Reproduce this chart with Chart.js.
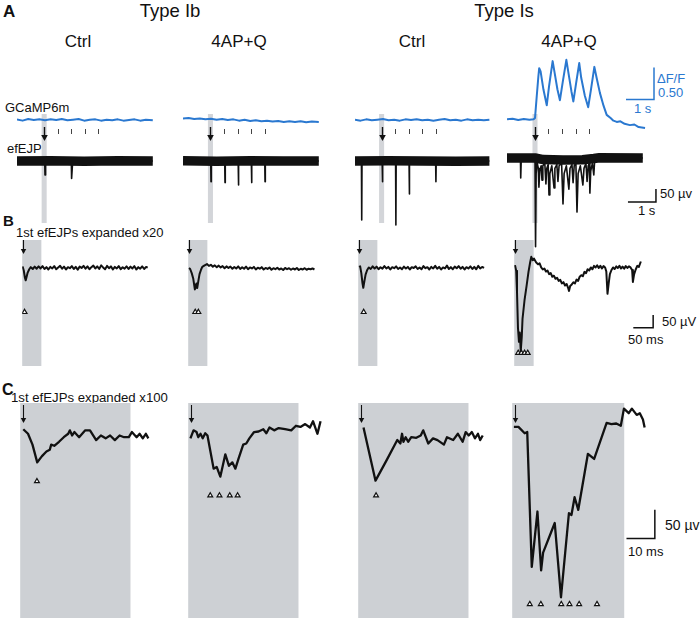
<!DOCTYPE html>
<html>
<head>
<meta charset="utf-8">
<script src="https://cdn.jsdelivr.net/npm/chart.js@4.4.1/dist/chart.umd.min.js"></script>
<style>
  html, body { margin: 0; padding: 0; background: #fff; }
  #fig { position: relative; width: 700px; height: 620px; overflow: hidden; font-family: "Liberation Sans", Arial, sans-serif; color: #111; }
  #fig canvas { position: absolute; }
  .lbl { position: absolute; line-height: 1; white-space: nowrap; }
  .ctr { transform: translateX(-50%); }
  .bold { font-weight: bold; }
  .blue { color: #2a78d0; }
</style>
</head>
<body>
<div id="fig">
  <div class="lbl bold" style="left:3px;top:3px;font-size:17px">A</div>
  <div class="lbl ctr" style="left:170px;top:2px;font-size:18.5px">Type Ib</div>
  <div class="lbl ctr" style="left:504px;top:2px;font-size:18.5px">Type Is</div>
  <div class="lbl ctr" style="left:78px;top:33px;font-size:17px">Ctrl</div>
  <div class="lbl ctr" style="left:239px;top:33px;font-size:17px">4AP+Q</div>
  <div class="lbl ctr" style="left:412px;top:33px;font-size:17px">Ctrl</div>
  <div class="lbl ctr" style="left:569px;top:33px;font-size:17px">4AP+Q</div>
  <div class="lbl" style="left:5px;top:101px;font-size:13px">GCaMP6m</div>
  <div class="lbl" style="left:7px;top:142px;font-size:13px">efEJP</div>
  <div class="lbl blue" style="left:657px;top:71.5px;font-size:13px">ΔF/F</div>
  <div class="lbl blue" style="left:658px;top:85.5px;font-size:13px">0.50</div>
  <div class="lbl blue" style="left:634px;top:102px;font-size:13px">1 s</div>
  <div class="lbl" style="left:660px;top:187px;font-size:13px">50 µv</div>
  <div class="lbl" style="left:638px;top:204px;font-size:13px">1 s</div>
  <div class="lbl bold" style="left:3px;top:212.5px;font-size:15px">B</div>
  <div class="lbl" style="left:16px;top:225.5px;font-size:13px">1st efEJPs expanded x20</div>
  <div class="lbl" style="left:662px;top:314.5px;font-size:13px">50 µV</div>
  <div class="lbl" style="left:628px;top:332.5px;font-size:13px">50 ms</div>
  <div class="lbl bold" style="left:2px;top:382px;font-size:16px">C</div>
  <div class="lbl" style="left:11px;top:390.5px;font-size:13.2px">1st efEJPs expanded x100</div>
  <div class="lbl" style="left:665px;top:518px;font-size:14px">50 µv</div>
  <div class="lbl" style="left:628px;top:544.5px;font-size:13px">10 ms</div>
</div>
<script>
// ---- data: [time, value] pairs ----
// panel A, time in s, GCaMP in dF/F, efEJP in uV
const stimTrain = [0, 0.48, 0.97, 1.45, 1.94];
const firstStimA = [0.97, 0.98, 0.95, 1.0];

const gcampIbCtrl = [[0,0.01],[0.2,-0.01],[0.4,0.015],[0.6,0],[0.8,0.01],[1.0,-0.005],[1.2,0.01],[1.4,0],[1.6,0.015],[1.8,-0.005],[2.0,0.005],[2.2,0.015],[2.4,-0.01],[2.6,0.005],[2.8,0.01],[3.0,-0.01],[3.2,0.005],[3.4,-0.005],[3.6,0.01],[3.8,-0.01],[4.0,0],[4.2,0.01],[4.4,-0.01],[4.6,0.005],[4.85,-0.005]];
const gcampIb4ap = [[0,0.025],[0.2,0.03],[0.4,0.015],[0.6,0.025],[0.8,0.01],[1.0,0.02],[1.2,0.005],[1.4,0.015],[1.6,0],[1.8,0.01],[2.0,-0.01],[2.2,0.005],[2.4,-0.015],[2.6,-0.005],[2.8,-0.02],[3.0,-0.01],[3.2,-0.025],[3.4,-0.015],[3.6,-0.03],[3.8,-0.02],[4.0,-0.03],[4.2,-0.02],[4.4,-0.035],[4.6,-0.025],[4.85,-0.03]];
const gcampIsCtrl = [[0,0.005],[0.2,-0.01],[0.4,0.01],[0.6,-0.005],[0.8,0.005],[1.0,0.015],[1.2,-0.005],[1.4,0.005],[1.6,-0.01],[1.8,0.01],[2.0,0],[2.2,0.01],[2.4,-0.005],[2.6,0.005],[2.8,-0.01],[3.0,0.005],[3.2,0.015],[3.4,-0.005],[3.6,0.005],[3.8,-0.01],[4.0,0.01],[4.2,-0.005],[4.4,0.005],[4.6,-0.005],[4.8,0.005]];
const gcampIs4ap = [[0,0.01],[0.2,0.02],[0.4,0],[0.6,0.015],[0.8,0.005],[0.95,0.01],[1.0,0.03],[1.06,0.36],[1.12,0.68],[1.15,0.81],[1.2,0.76],[1.3,0.48],[1.42,0.23],[1.5,0.52],[1.63,0.92],[1.7,0.74],[1.8,0.48],[1.89,0.31],[2.0,0.62],[2.12,0.94],[2.2,0.72],[2.3,0.45],[2.37,0.29],[2.47,0.58],[2.58,0.89],[2.65,0.66],[2.78,0.38],[2.9,0.2],[3.0,0.48],[3.12,0.83],[3.2,0.66],[3.32,0.42],[3.45,0.22],[3.56,0.08],[3.7,0.03],[3.8,-0.01],[3.92,-0.03],[4.05,-0.02],[4.2,-0.06],[4.39,-0.08],[4.55,-0.07],[4.7,-0.11],[4.93,-0.125]];

// noise band of the efEJP recordings (nearly flat)
const efBandIbCtrl = [[0,0],[1.2,1],[2.4,-1],[3.6,1],[4.85,0]];
const efBandIb4ap = [[0,1],[1.2,-1],[2.4,1],[3.6,0],[4.85,0]];
const efBandIsCtrl = [[0,0],[1.2,1],[2.4,0],[3.6,-1],[4.8,0]];
const efBandIs4ap = [[0,0],[1.0,0],[1.3,-6],[2.0,-8],[2.7,-7],[3.1,-2],[3.3,1],[4.85,0]];

const efSpikeIbCtrl = [[0,0],[0.99,0],[1.0,-54],[1.02,-8],[1.04,0],[1.94,0],[1.95,-67],[1.98,-15],[2.02,0],[4.85,0]];
const efSpikeIb4ap = [[0,0],[0.99,0],[1.0,-80],[1.01,0],[1.49,0],[1.5,-83],[1.51,0],[1.97,0],[1.98,-92],[1.99,0],[2.44,0],[2.45,-83],[2.46,0],[2.92,0],[2.93,-80],[2.94,0],[4.85,0]];
const efSpikeIsCtrl = [[0,0],[0.23,0],[0.24,-227],[0.25,0],[0.97,0],[0.98,-80],[0.99,0],[1.45,0],[1.46,-246],[1.47,0],[1.93,0],[1.94,-127],[1.95,0],[2.88,0],[2.89,-80],[2.9,0],[4.8,0]];
const efSpikeIs4ap = [[0,0],[0.48,0],[0.49,-77],[0.51,0],[1.0,0],[1.02,-341],[1.04,-60],[1.08,-20],[1.12,-40],[1.14,-112],[1.17,-50],[1.22,-30],[1.25,-85],[1.28,-30],[1.35,-20],[1.39,-100],[1.42,-40],[1.47,-25],[1.5,-142],[1.53,-60],[1.6,-30],[1.68,-115],[1.71,-40],[1.78,-25],[1.82,-90],[1.86,-30],[1.95,-20],[2.0,-177],[2.04,-60],[2.12,-30],[2.21,-120],[2.25,-40],[2.32,-25],[2.36,-95],[2.4,-30],[2.46,-20],[2.5,-208],[2.54,-60],[2.62,-30],[2.71,-104],[2.75,-40],[2.82,-20],[2.86,-90],[2.9,-30],[2.94,-20],[2.96,-135],[2.99,-50],[3.05,-20],[3.1,-65],[3.13,-10],[3.2,0],[4.85,0]];

// panel B, time in ms, uV
const bIbCtrl = [[1,6],[4,-10],[7,-38],[9,-48],[11,-36],[14,-18],[18,-5],[22,3],[27,-4],[32,5],[37,-3],[42,6],[47,-2],[52,7],[57,-4],[62,3],[67,-6],[72,4],[77,-2],[82,7],[87,-5],[92,2],[97,8],[102,-3],[107,5],[112,-6],[117,3],[122,-1],[127,7],[132,-4],[137,4],[142,-7],[147,5],[152,0],[157,8],[162,-3],[167,6],[172,-5],[177,3],[182,9],[187,-2],[192,6],[197,-4],[202,10],[207,2],[212,-5],[217,8],[222,-1],[227,6],[232,-6],[237,4],[242,-2],[247,7],[252,-5],[257,3],[262,-3],[267,6],[272,-4],[277,5],[282,-2],[287,7],[292,-6],[297,3],[302,-3],[307,6],[312,-4],[317,4],[321,1]];
const bIb4ap = [[2,0],[5,-4],[9,-20],[13,-42],[17,-83],[21,-60],[23,-78],[26,-50],[29,-24],[33,-6],[36,4],[42,10],[48,15],[53,8],[58,12],[63,5],[68,10],[73,3],[78,9],[83,2],[88,7],[93,-1],[98,6],[103,0],[108,5],[113,-3],[118,4],[123,-2],[128,6],[133,-4],[138,3],[143,-3],[148,5],[153,-5],[158,2],[163,-2],[168,4],[173,-6],[178,1],[183,-3],[188,3],[193,-6],[198,0],[203,-4],[208,2],[213,-7],[218,-1],[223,-5],[228,1],[233,-6],[238,-2],[243,-8],[248,0],[253,-5],[258,-1],[263,-7],[268,-2],[273,-6],[278,0],[283,-8],[288,-3],[293,-6],[298,-1],[303,-7],[308,-3],[313,-5],[318,-2],[323,-6]];
const bIsCtrl = [[2,4],[5,6],[8,-20],[11,-60],[13,-77],[16,-50],[19,-25],[23,-8],[27,2],[32,-4],[37,6],[42,-2],[47,5],[52,-5],[57,3],[62,-3],[67,7],[72,-2],[77,4],[82,-6],[87,3],[92,-1],[97,6],[102,-4],[107,2],[112,-5],[117,5],[122,-2],[127,4],[132,-6],[137,3],[142,0],[147,6],[152,-4],[157,2],[162,-5],[167,7],[172,-1],[177,3],[182,-6],[187,4],[192,-2],[197,8],[202,-3],[207,4],[212,-6],[217,2],[222,-2],[227,9],[232,-4],[237,3],[242,-5],[247,5],[252,-1],[257,7],[262,-3],[267,4],[272,-6],[277,3],[282,-2],[287,6],[292,-4],[297,4],[302,-5],[307,8],[312,-2],[317,4],[322,0]];
const bIs4ap = [[2,11],[5,-11],[7,-89],[9.5,-232],[12,-286],[14,-250],[16.5,-321],[19,-268],[21,-196],[26,-125],[31,-71],[36,-15],[40,20],[43,43],[47,30],[50,36],[55,22],[60,14],[64,18],[68,2],[72,-6],[76,-2],[80,-14],[84,-10],[88,-24],[92,-20],[96,-34],[100,-30],[104,-42],[108,-38],[112,-50],[116,-46],[120,-60],[124,-55],[128,-68],[132,-62],[136,-78],[138,-89],[141,-70],[145,-64],[149,-56],[153,-60],[157,-45],[161,-50],[165,-34],[169,-28],[173,-32],[177,-15],[181,-20],[185,-5],[189,-10],[193,2],[197,-5],[201,8],[205,2],[209,10],[213,0],[217,8],[221,-2],[225,7],[229,2],[232,-14],[235,-100],[238,-60],[241,-24],[245,-8],[249,2],[253,-4],[257,6],[261,0],[265,8],[269,-2],[273,5],[277,-3],[281,7],[285,0],[289,6],[293,2],[297,-8],[299,-54],[302,-25],[306,-6],[310,8],[314,4],[319,25]];
const bEvents = [[6], [18, 26], [14], [10, 18, 26, 34]];

// panel C, time in ms, uV
const cIbCtrl = [[1.1,8],[2.8,0],[4.4,-19],[6.1,-50],[7.8,-39],[9.4,-31],[10.6,-28],[11.1,-19],[12.2,-21],[13.9,-14],[15.6,-6],[17.2,0],[17.8,6],[18.6,-3],[19.4,3],[21.1,-6],[23.3,6],[25,6],[27.2,-11],[28.9,-3],[30.6,-8],[32.2,-3],[33.9,-11],[35.6,-3],[37.2,-6],[38.9,-6],[40,3],[41.7,-6],[42.8,0],[43.9,-8],[45,0],[45.9,-8]];
const cIb4ap = [[0.8,-8],[1.9,6],[3,3],[3.6,-6],[4.4,0],[5.2,-8],[6.1,1],[6.9,-3],[9.1,-61],[10.2,-58],[11.5,-75],[13.3,-36],[14.6,-56],[15.8,-50],[16.9,-61],[18,-44],[19.7,-19],[20.8,-17],[21.9,-8],[23.6,3],[25.2,4],[26.9,8],[28,1],[29.1,11],[30.8,6],[32.4,10],[34.7,8],[36.9,6],[38.6,14],[40.2,12],[41.9,17],[43.6,11],[44.7,22],[46.3,0],[47.4,22]];
const cIsCtrl = [[1.9,11],[6.2,-82],[10.1,-47],[14,-11],[15.1,-17],[15.7,0],[16.2,-14],[17,-6],[17.9,-14],[19,-6],[20.8,-7],[22.4,-3],[23.3,6],[25.1,-17],[26.8,-8],[28.4,-11],[30.7,-19],[31.8,-6],[34,-11],[35.7,0],[37.4,-14],[38.5,3],[39.6,-3],[40.7,3],[41.8,-8],[42.9,0],[43.7,-11],[44.6,-3]];
const cIs4ap = [[0.6,12],[2.2,12],[4.4,1],[5.3,3],[6.9,-233],[8.9,-136],[10.2,-239],[10.9,-208],[15,-156],[17.2,-286],[20,-139],[20.9,-142],[22,-111],[23.3,-133],[26.7,-35],[28.9,-44],[33.3,19],[35,17],[36.7,18],[38.3,14],[39.4,44],[41.1,36],[42.2,44],[43.9,33],[45,36],[46.1,25],[46.7,11]];
const cEvents = [[6], [7.9, 11.2, 14.9, 17.7], [6.4], [6.2, 10.1, 17.3, 20.2, 23.6, 29.9]];

// ---- drawing ----
const BLUE = '#2a78d0';
const BLACK = '#111';
const GREY = '#cdd0d4';

const shadePlugin = {
    id: 'shade',
    beforeDatasetsDraw(chart, args, opts) {
        if (opts.from === undefined) return;
        const x = chart.scales.x;
        const x0 = x.getPixelForValue(opts.from);
        const x1 = x.getPixelForValue(opts.to);
        chart.ctx.save();
        chart.ctx.fillStyle = opts.color;
        chart.ctx.fillRect(x0, opts.top, x1 - x0, opts.bottom - opts.top);
        chart.ctx.restore();
    }
};

// stimulus arrow + tick marks for the train
const stimPlugin = {
    id: 'stim',
    afterDatasetsDraw(chart, args, opts) {
        if (opts.arrowAt === undefined) return;
        const ctx = chart.ctx;
        const x = chart.scales.x;
        ctx.save();
        ctx.strokeStyle = BLACK;
        ctx.fillStyle = BLACK;
        const ax = Math.round(x.getPixelForValue(opts.arrowAt)) + 0.5;
        ctx.lineWidth = opts.lineWidth;
        ctx.beginPath();
        ctx.moveTo(ax, opts.top);
        ctx.lineTo(ax, opts.bottom - opts.head);
        ctx.stroke();
        ctx.beginPath();
        ctx.moveTo(ax - opts.head * 0.55, opts.bottom - opts.head);
        ctx.lineTo(ax + opts.head * 0.55, opts.bottom - opts.head);
        ctx.lineTo(ax, opts.bottom);
        ctx.closePath();
        ctx.fill();
        (opts.ticks || []).forEach(t => {
            const tx = Math.round(x.getPixelForValue(t)) + 0.5;
            ctx.lineWidth = 1;
            ctx.strokeStyle = '#444';
            ctx.beginPath();
            ctx.moveTo(tx, opts.tickTop);
            ctx.lineTo(tx, opts.tickBottom);
            ctx.stroke();
        });
        ctx.restore();
    }
};

// L-shaped calibration bars, in data units
const scaleBarPlugin = {
    id: 'scaleBar',
    afterDatasetsDraw(chart, args, opts) {
        const ctx = chart.ctx;
        (opts.bars || []).forEach(b => {
            const xs = chart.scales.x;
            const ys = chart.scales[b.axis];
            const x0 = xs.getPixelForValue(b.x - b.dx);
            const x1 = xs.getPixelForValue(b.x);
            const y0 = ys.getPixelForValue(b.y);
            const y1 = ys.getPixelForValue(b.y + b.dy);
            ctx.save();
            ctx.strokeStyle = b.color;
            ctx.lineWidth = 1.5;
            ctx.beginPath();
            ctx.moveTo(x0, y0);
            ctx.lineTo(x1, y0);
            ctx.lineTo(x1, y1);
            ctx.stroke();
            ctx.restore();
        });
    }
};

function pts(pairs) {
    return pairs.map(p => ({ x: p[0], y: p[1] }));
}

// value range so that zero lands at zeroY (page px) for a canvas at top
function yRange(zeroY, top, height, pxPerUnit) {
    const max = (zeroY - top) / pxPerUnit;
    return { min: max - height / pxPerUnit, max: max, display: false, type: 'linear' };
}

function trace(pairs, color, width, axis) {
    return {
        data: pts(pairs), borderColor: color, borderWidth: width, yAxisID: axis || 'y',
        pointRadius: 0, tension: 0, borderJoinStyle: 'round', fill: false
    };
}

function markers(times, level) {
    return {
        data: times.map(t => ({ x: t, y: level })), showLine: false,
        pointStyle: 'triangle', pointRadius: 2.8, pointBorderWidth: 1.2,
        pointBackgroundColor: '#fff', pointBorderColor: BLACK
    };
}

function panel(left, top, width, height, datasets, scales, pluginOpts) {
    const canvas = document.createElement('canvas');
    canvas.width = width;
    canvas.height = height;
    canvas.style.left = left + 'px';
    canvas.style.top = top + 'px';
    document.getElementById('fig').appendChild(canvas);
    new Chart(canvas, {
        type: 'line',
        data: { datasets: datasets },
        options: {
            responsive: false,
            animation: false,
            events: [],
            layout: { padding: 0 },
            scales: scales,
            plugins: Object.assign({ legend: { display: false }, tooltip: { enabled: false } }, pluginOpts)
        },
        plugins: [shadePlugin, stimPlugin, scaleBarPlugin]
    });
}

const gcamp = [gcampIbCtrl, gcampIb4ap, gcampIsCtrl, gcampIs4ap];
const efBand = [efBandIbCtrl, efBandIb4ap, efBandIsCtrl, efBandIs4ap];
const efSpike = [efSpikeIbCtrl, efSpikeIb4ap, efSpikeIsCtrl, efSpikeIs4ap];
const bTraces = [bIbCtrl, bIb4ap, bIsCtrl, bIs4ap];
const cTraces = [cIbCtrl, cIb4ap, cIsCtrl, cIs4ap];

// panel A
const aLeft = [17, 183, 355, 507];
const aVZero = [161, 161, 161, 158];
for (let i = 0; i < 4; i++) {
    const w = i === 3 ? 190 : 150;
    const top = 50, h = 200;
    const first = firstStimA[i];
    const opts = {
        shade: { from: first - 0.09, to: first + 0.09, top: 64, bottom: 173, color: '#d3d5d9' },
        stim: {
            arrowAt: first, top: 77, bottom: 91, head: 6, lineWidth: 1.4,
            ticks: stimTrain.slice(1).map(s => first + s), tickTop: 79, tickBottom: 84
        }
    };
    if (i === 3) {
        opts.scaleBar = { bars: [
            { axis: 'yF', x: 5.25, y: 0.32, dx: 1, dy: 0.5, color: BLUE },
            { axis: 'yV', x: 5.32, y: -169, dx: 1, dy: 50, color: BLACK }
        ] };
    }
    panel(aLeft[i], top, w, h, [
        trace(efBand[i], BLACK, 9.5, 'yV'),
        trace(efSpike[i], BLACK, 1.6, 'yV'),
        trace(gcamp[i], BLUE, 2, 'yF')
    ], {
        x: { type: 'linear', display: false, min: 0, max: w / 28 },
        y: { display: false },
        yF: yRange(120, top, h, 64),
        yV: yRange(aVZero[i], top, h, 0.26)
    }, opts);
}

// panel B
const bLeft = [17, 183, 353, 509];
const bLevel = [-171, -171, -171, -329];
for (let i = 0; i < 4; i++) {
    const w = i === 3 ? 190 : 150;
    const top = 236, h = 134;
    const opts = {
        shade: { from: 0, to: 49, top: 4, bottom: 130, color: GREY },
        stim: { arrowAt: 2, top: 4, bottom: 18, head: 5, lineWidth: 1.1 }
    };
    if (i === 3) {
        opts.scaleBar = { bars: [{ axis: 'y', x: 350, y: -232, dx: 50, dy: 50, color: BLACK }] };
    }
    panel(bLeft[i], top, w, h, [
        trace(bTraces[i], BLACK, 2),
        markers(bEvents[i], bLevel[i])
    ], {
        x: { type: 'linear', display: false, min: 0, max: w / 0.42 },
        y: yRange(265, top, h, 0.28)
    }, opts);
}

// panel C
const cLeft = [15, 183, 353, 507];
const cLevel = [-83, -108, -108, -298];
for (let i = 0; i < 4; i++) {
    const w = i === 3 ? 190 : 150;
    const top = 400, h = 220;
    const opts = {
        shade: { from: 0, to: 39.5, top: 3, bottom: 218, color: GREY },
        stim: { arrowAt: 1, top: 5, bottom: 23, head: 5, lineWidth: 1.1 }
    };
    if (i === 3) {
        opts.scaleBar = { bars: [{ axis: 'y', x: 50.3, y: -183, dx: 10, dy: 50, color: BLACK }] };
    }
    panel(cLeft[i], top, w, h, [
        trace(cTraces[i], BLACK, 2.3),
        markers(cEvents[i], cLevel[i])
    ], {
        x: { type: 'linear', display: false, min: 0, max: w / 3 },
        y: yRange(430, top, h, 0.6)
    }, opts);
}
</script>
</body>
</html>
